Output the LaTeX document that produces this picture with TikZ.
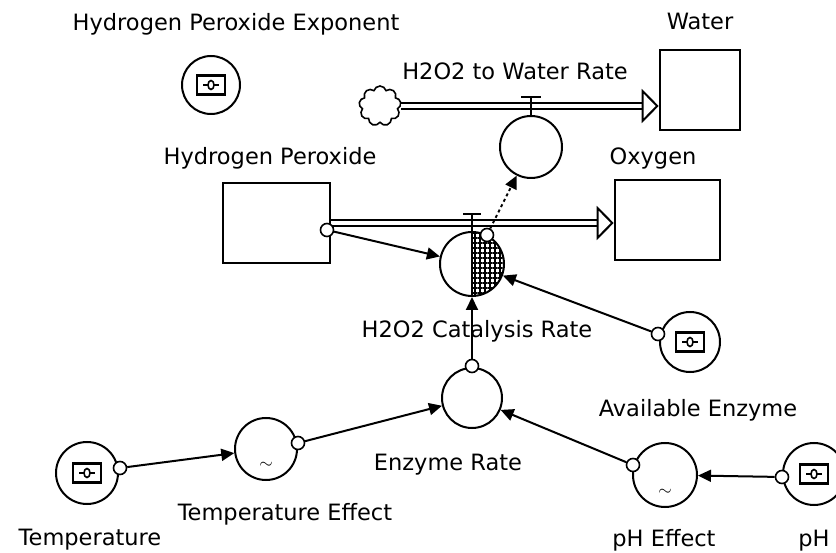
\documentclass[tikz,border=0pt]{standalone}
\usepackage{fontspec}
\setmainfont{DejaVu Sans}
\usepackage{tikz}
\usetikzlibrary{arrows.meta,positioning,shapes.symbols,patterns.meta}

\begin{document}
\begin{tikzpicture}[
  x=1pt,y=1pt,
  font=\fontsize{22.5}{26}\selectfont,
  stock/.style={draw,line width=2.6pt,inner sep=0pt},
  conv/.style={circle,draw,line width=2pt,inner sep=0pt,minimum size=62pt},
  tap/.style={circle,draw,fill=white,line width=1.6pt,inner sep=0pt,minimum size=13pt},
  lbl/.style={anchor=base,inner sep=0pt},
  pipe/.style={double,double distance=4pt,line width=2pt,-{Triangle[open,length=17pt,width=34pt]}},
  conn/.style={line width=2pt,-{Triangle[length=13pt,width=12pt]}},
  stem/.style={line width=2pt},
  graph/.style={font=\fontsize{17}{17}\selectfont,inner sep=0pt},
  knob/.pic={
    \draw[line width=2.2pt] (-14,-9.5) rectangle (14,9.5);
    \draw[line width=2.4pt] (-8,0) -- (8,0);
    \draw[line width=1.6pt,fill=white] (0,0) ellipse (3 and 4.5);
  }
]
\useasboundingbox (0,0) rectangle (836,-553);
\clip (0,0) rectangle (836,-553);

\node[stock,minimum width=80pt,minimum height=80pt] (water) at (700,-90) {};
\node[stock,minimum width=107pt,minimum height=80pt] (hp) at (276.5,-223) {};
\node[stock,minimum width=105pt,minimum height=80pt] (oxy) at (667.5,-220) {};
\node[cloud,cloud puffs=9,draw,line width=1.6pt,minimum width=42pt,minimum height=40pt,inner sep=0pt] (cloud) at (380,-106) {};

\draw[pipe] (cloud.east) -- (cloud.east -| water.west);
\draw[pipe] (hp.east) -- (hp.east -| oxy.west);

\node[conv] (wrate) at (531,-147) {};
\node[conv,minimum size=64pt,path picture={
  \fill[pattern={Hatch[distance=5pt,angle=0,line width=2.2pt]}] (path picture bounding box.north) rectangle (path picture bounding box.south east);
  \draw[line width=2pt] (path picture bounding box.north) -- (path picture bounding box.south);
}] (cat) at (472,-264) {};
\node[conv,minimum size=58pt] (hpe) at (211,-85) {};
\node[conv,minimum size=60pt] (ae) at (690,-342) {};
\node[conv,minimum size=60pt] (er) at (472,-398) {};
\node[conv] (te) at (266,-449) {};
\node[conv] (temp) at (87,-473) {};
\node[conv,minimum size=64pt] (phe) at (665,-475) {};
\node[conv] (ph) at (814,-474) {};

\draw[stem] (wrate.north) -- ++(0,18) ++(-10,0) -- ++(20,0);
\draw[stem] (cat.north) -- ++(0,17) ++(-9,0) -- ++(18,0);

\pic at (hpe) {knob};
\pic at (ae) {knob};
\pic at (temp) {knob};
\pic at (ph) {knob};
\node[graph] (teg) at ([yshift=-16pt]te.center) {$\sim$};
\node[graph] (pheg) at ([yshift=-17pt]phe.center) {$\sim$};

\node[tap] (hptap) at (327,-230) {};
\node[tap] (cattap) at (487,-235) {};
\node[tap] (aetap) at (658,-334) {};
\node[tap] (ertap) at (472,-366) {};
\node[tap] (tetap) at (298,-443) {};
\node[tap] (ttap) at (120,-468) {};
\node[tap] (phetap) at (633,-465) {};
\node[tap] (phtap) at (782,-477) {};

\draw[conn] (hptap) -- (cat);
\draw[conn] (aetap) -- (cat);
\draw[conn] (ertap) -- (cat);
\draw[conn,dashed] (cattap) -- (wrate);
\draw[conn] (tetap) -- (er);
\draw[conn] (phetap) -- (er);
\draw[conn] (ttap) -- (te);
\draw[conn] (phtap) -- (phe);

\node[lbl] (hpel) at (236,-31) {Hydrogen Peroxide Exponent};
\node[lbl] (waterl) at (700,-30) {Water};
\node[lbl] (wratel) at (515,-80) {H2O2 to Water Rate};
\node[lbl] (hpl) at (270,-165) {Hydrogen Peroxide};
\node[lbl] (oxyl) at (653,-165) {Oxygen};
\node[lbl] (catl) at (477,-338) {H2O2 Catalysis Rate};
\node[lbl] (ael) at (698,-417) {Available Enzyme};
\node[lbl] (erl) at (448,-471) {Enzyme Rate};
\node[lbl] (tel) at (285,-520) {Temperature Effect};
\node[lbl] (templ) at (90,-545) {Temperature};
\node[lbl] (phel) at (664,-546) {pH Effect};
\node[lbl] (phl) at (814,-546) {pH};
\end{tikzpicture}
\end{document}
